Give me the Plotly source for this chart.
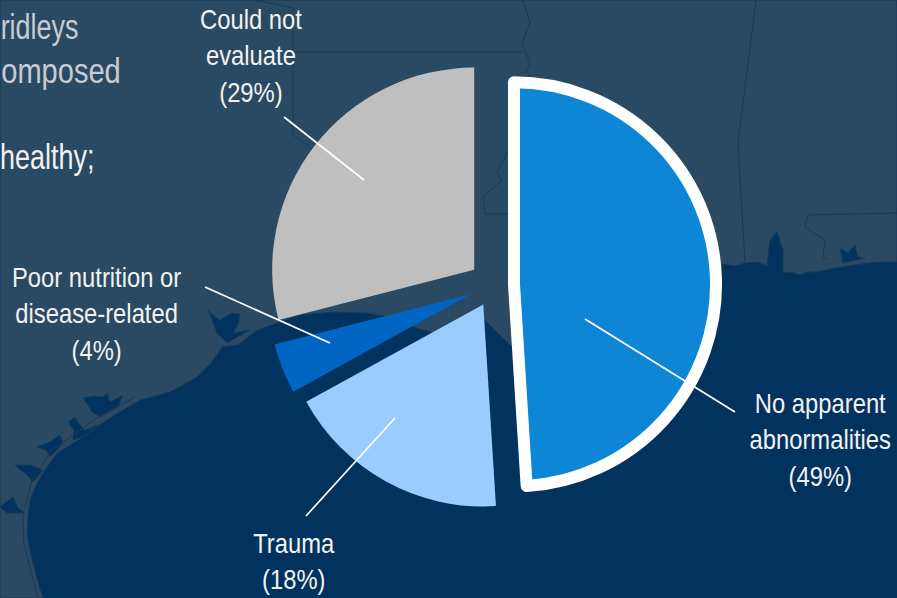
import plotly.graph_objects as go

# ---- chart data ----
labels = ["No apparent<br>abnormalities", "Trauma", "Poor nutrition or<br>disease-related", "Could not<br>evaluate"]
values = [49, 18, 4, 29]
pulls = [0.099, 0.11, 0.126, 0.124]
colors = ["#0D86D6", "#99CCFF", "#0066C4", "#BFBFBF"]
line_widths = [12, 0, 0, 0]

# ---- layout of annotations (pixels in the 897x598 page) ----
W, H = 897, 598
label_pos = [(820, 440), (294, 561), (96, 314), (251, 56)]
leaders = [((735, 412), (585, 319)), ((306, 516), (395, 418)), ((205, 287), (330, 343)), ((284, 117), (364, 180))]
cut_text = [("ridleys", 39, 27, "#C6CCD1", 0.77), ("omposed", 61, 70, "#C6CCD1", 0.83), ("healthy;", 47, 156, "#F2F2F2", 0.77)]

# ---- background map outlines ----
LAND, SEA, EDGE = "#294A62", "#02335E", "#173B57"
coast = [(0,0),(897,0),(897,262),(880,262),(860,264),(848,266),(835,268),(817,272),(808,272),(800,275),(790,272),(783,273),
         (783,250),(777,232),(770,240),(767,266),(758,262),(745,263),(735,266),(722,264),(700,300),(540,350),(510,345),
         (500,335),(495,330),(487,322),(483,318),(470,322),(440,335),(417,328),(395,318),(367,313),(333,312),
         (300,315),(277,323),(256,331),(238,345),(230,346),(222,347),(212,362),(197,377),(170,392),(140,400),(107,420),
         (85,436),(57,453),(45,470),(37,483),(30,500),(28,517),(27,535),(30,550),(36,575),(43,598),(0,598)]
bays = [[(208,310),(214,316),(220,320),(232,313),(240,314),(238,325),(233,333),(250,330),(227,343),(217,333),(213,322)],
        [(83,398),(93,396),(103,397),(107,393),(110,402),(123,395),(118,407),(100,417),(92,412),(88,405)],
        [(68,422),(75,417),(80,425),(85,430),(103,423),(83,437),(73,440),(74,430)],
        [(37,447),(50,442),(60,435),(63,443),(55,452),(50,457),(46,450)],
        [(15,465),(30,465),(43,470),(33,482),(27,475),(20,470)],
        [(0,507),(13,497),(18,508),(25,513),(7,513)],
        [(840,248),(848,253),(855,245),(858,257),(865,258),(843,263)]]
state_lines = [[(756,0),(738,143),(745,263)],
               [(897,213),(808,215),(805,227),(825,240),(823,257),(828,260)],
               [(253,0),(280,5),(293,8),(293,135),(313,150)],
               [(293,52),(523,52)],
               [(523,0),(530,23),(522,43),(530,63),(525,73)],
               [(507,153),(497,173),(502,180),(483,197),(485,214),(508,214)],
               [(38,598),(24,545),(23,515),(32,480),(52,450),(100,416),(135,397)]]


def fx(p):
    return p / W


def fy(p):
    return 1 - p / H


def path(points, close=True):
    d = "M" + " L".join(f"{fx(x):.5f},{fy(y):.5f}" for x, y in points)
    return d + (" Z" if close else "")


shapes = [dict(type="path", path=path(coast), xref="paper", yref="paper", fillcolor=LAND,
               line=dict(color=EDGE, width=1), layer="below")]
for b in bays:
    shapes.append(dict(type="path", path=path(b), xref="paper", yref="paper", fillcolor=SEA,
                       line=dict(color=EDGE, width=1), layer="below"))
for s in state_lines:
    shapes.append(dict(type="path", path=path(s, False), xref="paper", yref="paper",
                       line=dict(color=EDGE, width=1), layer="below"))
for (a, b) in leaders:
    shapes.append(dict(type="line", xref="paper", yref="paper", x0=fx(a[0]), y0=fy(a[1]), x1=fx(b[0]), y1=fy(b[1]),
                       line=dict(color="#FFFFFF", width=1.7), layer="above"))

FONT = "Liberation Sans, Arial, sans-serif"
annotations = []
scales = []
for lab, v, (x, y) in zip(labels, values, label_pos):
    annotations.append(dict(text=f"{lab}<br>({v}%)", x=fx(x), y=fy(y), xref="paper", yref="paper", showarrow=False,
                            xanchor="center", yanchor="middle", align="center",
                            font=dict(family=FONT, size=28, color="#F2F2F2")))
    scales.append(0.85)
for t, x, y, c, s in cut_text:
    annotations.append(dict(text=t, x=fx(x), y=fy(y), xref="paper", yref="paper", showarrow=False,
                            xanchor="center", yanchor="middle", font=dict(family=FONT, size=35, color=c)))
    scales.append(s)

fig = go.Figure(go.Pie(
    labels=[l.replace("<br>", " ") for l in labels], values=values, pull=pulls, sort=False,
    direction="clockwise", rotation=0, textinfo="none", hoverinfo="label+percent",
    marker=dict(colors=colors, line=dict(color="#FFFFFF", width=line_widths)),
    domain=dict(x=[fx(266.5), fx(721.5)], y=[fy(512.5), fy(57.5)]),
))
fig.update_layout(width=W, height=H, margin=dict(l=0, r=0, t=0, b=0), showlegend=False,
                  paper_bgcolor=SEA, shapes=shapes, annotations=annotations)

# Arial Narrow is not installed: narrow the real text horizontally about its own centre.
post = """
document.body.style.margin='0';
document.querySelectorAll('.slice path.surface').forEach(p=>p.style.strokeLinejoin='round');
var scales=%s;
document.querySelectorAll('.annotation-text').forEach(function(t,i){
  var b=t.getBBox(), cx=b.x+b.width/2, old=t.getAttribute('transform')||'';
  t.setAttribute('transform','translate('+cx+' 0) scale('+scales[i]+' 1) translate('+(-cx)+' 0) '+old);
});
""" % scales
fig.write_html("out.html", config=dict(displayModeBar=False), post_script=post)
